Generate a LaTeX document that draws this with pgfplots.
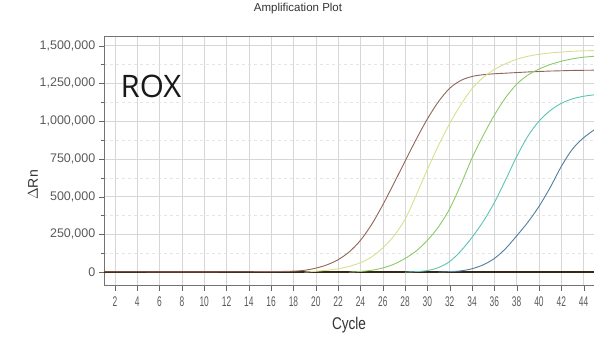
\documentclass[border=0pt]{standalone}
\usepackage{fontspec}
\setmainfont{Liberation Sans}
\newfontfamily\roxfont{Open Sans}
\usepackage{pgfplots}
\pgfplotsset{compat=1.18}
\definecolor{cbrown}{RGB}{145,100,88}
\definecolor{cyellow}{RGB}{215,224,140}
\definecolor{cgreen}{RGB}{140,202,105}
\definecolor{cteal}{RGB}{90,196,180}
\definecolor{cblue}{RGB}{80,126,158}
\definecolor{tickgray}{RGB}{90,90,90}
\begin{document}
\begin{tikzpicture}[x=1pt,y=1pt]
\path[use as bounding box] (0,0) rectangle (594,343);
\begin{axis}[at={(93,38)}, anchor=south west, scale only axis,
  width=491pt, height=249pt,
  xmin=1, xmax=45, ymin=-90000, ymax=1560000,
  xtick={2,4,...,44},
  ytick={0,250000,500000,750000,1000000,1250000,1500000},
  minor ytick={125000,375000,625000,875000,1125000,1375000},
  grid=both,
  major grid style={black!16, line width=0.5pt},
  minor grid style={black!10, dashed, line width=0.4pt},
  scaled y ticks=false,
  /pgf/number format/assume math mode=true,
  yticklabel style={/pgf/number format/fixed, /pgf/number format/1000 sep={,}, font=\fontsize{12.5}{14}\selectfont},
  tick align=outside, tick pos=left,
  major tick length=5pt,
  tick style={black!60},
  axis line style={black!55},
  ticklabel style={text=tickgray},
  xticklabel={\scalebox{0.6}[1]{\fontsize{14}{16}\selectfont\pgfmathprintnumber{\tick}}},
  xticklabel style={yshift=-3pt},
  every axis plot/.append style={line width=0.9pt, smooth, mark=none},
]
\addplot[black!70!brown, line width=1.3pt, smooth=false] coordinates {(1,0) (45,0)};
% Brown
\addplot[cbrown] coordinates {
(1,2000)(4,2000)(8,1000)(12,2000)(16,3000)(18,6000)(19,12000)(20,26000)(21,48000)(22,82000)
(23,134000)(24,210000)(25,315000)(26,445000)(27,588000)(28,735000)(29,880000)(30,1015000)
(31,1130000)(32,1218000)(33,1270000)(34,1296000)(35,1308000)(36,1314000)(37,1318000)
(38,1322000)(39,1326000)(40,1329000)(41,1332000)(42,1334000)(43,1336000)(44,1337000)(45,1338000)};
% Yellow
\addplot[cyellow] coordinates {
(19,0)(20,5000)(21,12000)(22,22000)(23,38000)(24,62000)(25,100000)(26,160000)(27,240000)
(28,350000)(29,510000)(30,680000)(31,840000)(32,985000)(33,1110000)(34,1215000)(35,1290000)
(36,1342000)(37,1380000)(38,1410000)(39,1430000)(40,1443000)(41,1452000)(42,1458000)
(43,1463000)(44,1466000)(45,1468000)};
% Green
\addplot[cgreen] coordinates {
(23,0)(24,4000)(25,12000)(26,27000)(27,52000)(28,90000)(29,140000)(30,210000)(31,300000)
(32,420000)(33,580000)(34,755000)(35,905000)(36,1040000)(37,1155000)(38,1245000)
(39,1305000)(40,1345000)(41,1375000)(42,1397000)(43,1413000)(44,1424000)(45,1430000)};
% Teal
\addplot[cteal] coordinates {
(28,0)(29,3000)(30,10000)(31,30000)(32,70000)(33,140000)(34,230000)(35,335000)(36,460000)
(37,610000)(38,765000)(39,900000)(40,1000000)(41,1070000)(42,1118000)(43,1148000)
(44,1165000)(45,1175000)};
% Blue
\addplot[cblue] coordinates {
(31,0)(32,3000)(33,8000)(34,22000)(35,48000)(36,90000)(37,155000)(38,240000)(39,330000)
(40,435000)(41,560000)(42,700000)(43,815000)(44,890000)(45,945000)};
\end{axis}
\node[text=black!80, font=\fontsize{11.5}{13}\selectfont] at (298,334) {Amplification Plot};
\node[text=black!80, rotate=90, font=\fontsize{14}{16}\selectfont] at (33,158) {$\Delta$Rn};
\node[text=black!80] at (349,18) {\scalebox{0.8}[1]{\fontsize{17}{19}\selectfont Cycle}};
\node[text=black!90, font={\roxfont\fontsize{31}{34}\selectfont}] at (151,257) {ROX};
\end{tikzpicture}
\end{document}
